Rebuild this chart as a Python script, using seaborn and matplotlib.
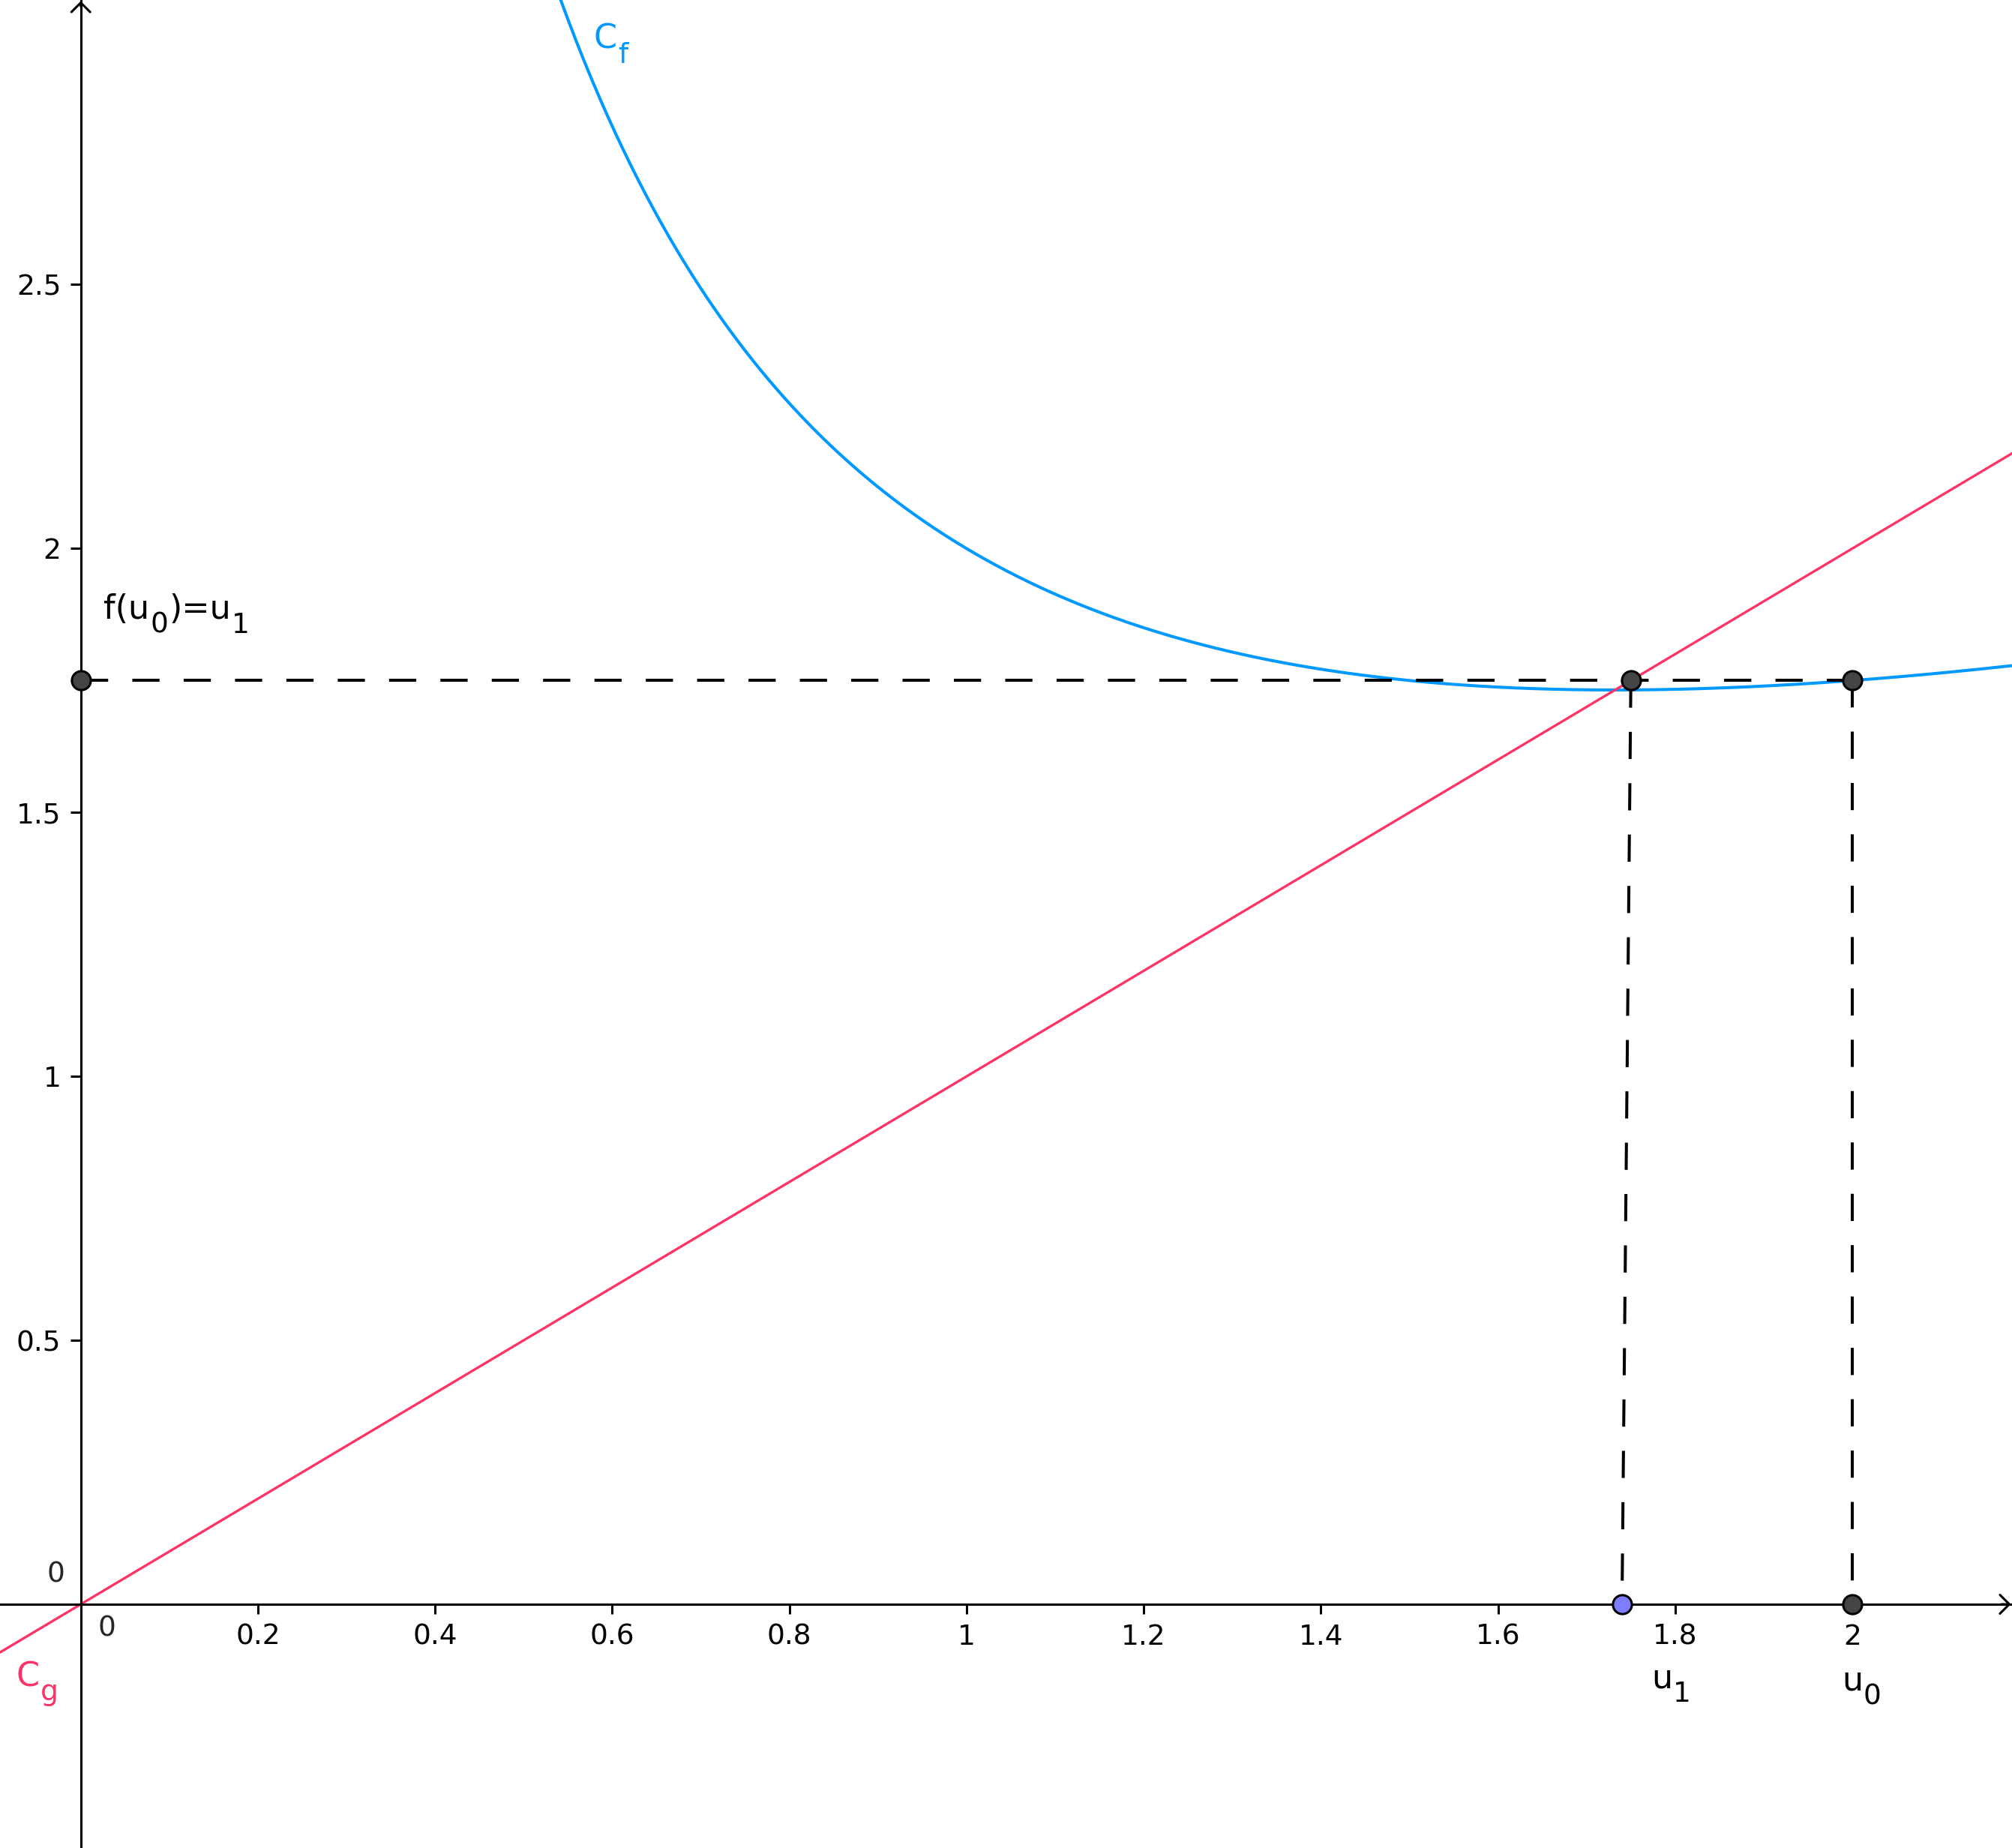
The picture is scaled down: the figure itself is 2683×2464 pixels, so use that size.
import numpy as np
import matplotlib
matplotlib.use("Agg")
import matplotlib.pyplot as plt
from matplotlib.transforms import IdentityTransform
import seaborn as sns

# values
u0 = 2.0
u1 = 1.75            # f(u0)
u1_foot = 1.74       # free point placed on the x axis
x_ticks = [0.2, 0.4, 0.6, 0.8, 1.0, 1.2, 1.4, 1.6, 1.8, 2.0]
x_tick_labels = ["0.2", "0.4", "0.6", "0.8", "1", "1.2", "1.4", "1.6", "1.8", "2"]
y_ticks = [0.5, 1.0, 1.5, 2.0, 2.5]
y_tick_labels = ["0.5", "1", "1.5", "2", "2.5"]
x_range = (-0.0912, 2.1803)
y_range = (-0.4618, 3.0392)

blue = "#0099ff"
red = "#ff3366"


def f(x):
    # Newton iteration for sqrt(3)
    return (x + 3 / x) / 2


sns.set_theme(style="white")
plt.rcParams["font.family"] = ["DejaVu Sans"]

fig = plt.figure(figsize=(26.83, 24.64), dpi=100)
ax = fig.add_axes([0, 0, 1, 1])
ax.set_xlim(*x_range)
ax.set_ylim(*y_range)

# axes through the origin
for s in ["top", "right"]:
    ax.spines[s].set_visible(False)
for s in ["left", "bottom"]:
    ax.spines[s].set_position(("data", 0))
    ax.spines[s].set_linewidth(2.2)
    ax.spines[s].set_color("black")
arrow = dict(arrowstyle="->,head_length=0.45,head_width=0.45",
             lw=2.2, color="black", mutation_scale=20, shrinkA=0, shrinkB=1)
ax.annotate("", xy=(x_range[1], 0), xytext=(x_range[1] - 0.012, 0), arrowprops=arrow)
ax.annotate("", xy=(0, y_range[1]), xytext=(0, y_range[1] - 0.012), arrowprops=arrow)

ax.set_xticks(x_ticks, x_tick_labels)
ax.set_yticks(y_ticks, y_tick_labels)
ax.tick_params(axis="x", direction="out", length=9.5, width=2.2, pad=9,
               labelsize=27, colors="black", bottom=True)
ax.tick_params(axis="y", direction="out", length=10, width=2.2, pad=9,
               labelsize=27, colors="black", left=True)
ax.text(0.029, -0.02, "0", fontsize=27, ha="center", va="top")
ax.text(-0.028, 0.03, "0", fontsize=27, ha="center", va="bottom")

# curves
xs = np.linspace(0.45, x_range[1], 600)
sns.lineplot(x=xs, y=f(xs), color=blue, lw=2.9, ax=ax, estimator=None, sort=False)
xl = np.array(x_range)
sns.lineplot(x=xl, y=xl, color=red, lw=2.4, ax=ax, estimator=None, sort=False)

# construction lines
dash = (0, (9, 8))
ax.plot([0, u0], [u1, u1], color="black", lw=2.9, ls=dash, zorder=3)
ax.plot([u0, u0], [u1, 0], color="black", lw=2.9, ls=dash, zorder=3)
ax.plot([u1, u1_foot], [u1, 0], color="black", lw=2.9, ls=dash, zorder=3)

# points
sns.scatterplot(x=[0, u1, u0, u0], y=[u1, u1, u1, 0], s=330, color="#444444",
                edgecolor="black", linewidth=2.2, ax=ax, zorder=5)
sns.scatterplot(x=[u1_foot], y=[0], s=330, color="#7d7dff",
                edgecolor="black", linewidth=2.2, ax=ax, zorder=5)

# labels with GeoGebra-like subscripts (bigger and lower than mathtext)
renderer = fig.canvas.get_renderer()


def label(x, y, parts, color="black", size=32, subsize=27, drop=19):
    xd, yd = ax.transData.transform((x, y))
    for text, is_sub in parts:
        t = ax.text(xd, yd - drop if is_sub else yd, text, transform=IdentityTransform(),
                    fontsize=subsize if is_sub else size, color=color,
                    ha="left", va="baseline")
        xd += t.get_window_extent(renderer).width + 1


label(0.579, 2.947, [("C", False), ("f", True)], color=blue)
label(-0.0726, -0.155, [("C", False), ("g", True)], color=red)
label(0.0257, 1.867, [("f(u", False), ("0", True), (")=u", False), ("1", True)])
label(1.773, -0.158, [("u", False), ("1", True)])
label(1.988, -0.162, [("u", False), ("0", True)])

fig.savefig("out.png", dpi=100)
